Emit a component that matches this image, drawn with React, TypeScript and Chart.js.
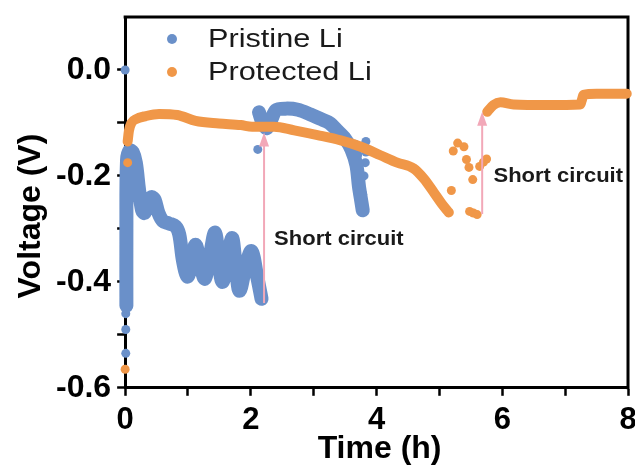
import { useEffect, useRef } from "react";
import { Chart, registerables } from "chart.js";

Chart.register(...registerables);

const BLUE = "#6a90c9";
const ORANGE = "#f09748";
const PINK = "#f2a8b8";
const FONT = "'Liberation Sans', Arial, sans-serif";

// ---- Pristine Li (blue) ----
const pristineMainTime = [0.02, 0.02, 0.03, 0.07, 0.12, 0.17, 0.22, 0.27, 0.31, 0.36, 0.42, 0.47, 0.53, 0.6, 0.7, 0.8, 0.86, 0.92, 0.99, 1.05, 1.12, 1.2, 1.27, 1.35, 1.43, 1.49, 1.545, 1.62, 1.7, 1.76, 1.82, 1.92, 2.01, 2.1, 2.17];
const pristineMainVolt = [-0.445, -0.3, -0.17, -0.152, -0.155, -0.175, -0.225, -0.265, -0.27, -0.25, -0.24, -0.245, -0.27, -0.285, -0.29, -0.295, -0.31, -0.36, -0.39, -0.37, -0.33, -0.37, -0.394, -0.35, -0.307, -0.36, -0.4, -0.37, -0.317, -0.37, -0.417, -0.37, -0.342, -0.39, -0.432];
const pristineLateTime = [2.13, 2.18, 2.25, 2.32, 2.4, 2.55, 2.75, 2.95, 3.1, 3.25, 3.38, 3.5, 3.6, 3.68, 3.72, 3.76, 3.78];
const pristineLateVolt = [-0.08, -0.098, -0.11, -0.095, -0.076, -0.073, -0.075, -0.084, -0.092, -0.1, -0.115, -0.13, -0.15, -0.18, -0.22, -0.25, -0.265];
const pristineDotTime = [0, 0.01, 0.01, 0.01, 2.11, 3.83, 3.83, 3.82, 3.8, 3.78, 3.66, 3.7, 3.64, 3.7, 3.73];
const pristineDotVolt = [0, -0.46, -0.49, -0.535, -0.15, -0.135, -0.155, -0.175, -0.2, -0.235, -0.14, -0.16, -0.165, -0.2, -0.24];

// ---- Protected Li (orange) ----
const protectedMainTime = [0.04, 0.06, 0.1, 0.17, 0.33, 0.54, 0.83, 1.12, 1.49, 1.84, 2.02, 2.37, 2.69, 3.06, 3.43, 3.75, 4.06, 4.33, 4.59, 4.75, 4.91, 5.04, 5.15];
const protectedMainVolt = [-0.135, -0.115, -0.1, -0.093, -0.087, -0.083, -0.085, -0.096, -0.101, -0.104, -0.107, -0.107, -0.114, -0.123, -0.133, -0.145, -0.161, -0.175, -0.186, -0.205, -0.231, -0.253, -0.269];
const protectedLateTime = [5.76, 5.86, 5.97, 6.18, 6.71, 7.24, 7.27, 7.29, 7.5, 7.98];
const protectedLateVolt = [-0.079, -0.066, -0.061, -0.065, -0.066, -0.065, -0.055, -0.047, -0.045, -0.045];
const protectedDotTime = [0.0, 0.04, 5.19, 5.22, 5.29, 5.39, 5.43, 5.47, 5.53, 5.48, 5.54, 5.6, 5.64, 5.7, 5.75];
const protectedDotVolt = [-0.565, -0.175, -0.2275, -0.153, -0.138, -0.145, -0.169, -0.184, -0.207, -0.267, -0.27, -0.273, -0.182, -0.174, -0.168];

// ---- Annotations ----
const arrowTime = [2.21, 5.68];
const arrowFrom = [-0.44, -0.272];
const arrowTo = [-0.118, -0.079];
const noteText = ["Short circuit", "Short circuit"];
const noteTime = [2.37, 5.86];
const noteVolt = [-0.32, -0.201];

const legendLabels = ["Pristine Li", "Protected Li"];
const legendColors = [BLUE, ORANGE];

const xTitle = "Time (h)";
const yTitle = "Voltage (V)";

const pts = (xs: number[], ys: number[]) => xs.map((x, i) => ({ x, y: ys[i] }));

const overlay = {
  id: "overlay",
  beforeDatasetsDraw(chart: any) {
    const { ctx, chartArea: a } = chart;
    ctx.save();
    ctx.strokeStyle = "#000";
    ctx.lineWidth = 3;
    ctx.beginPath();
    ctx.moveTo(a.left - 1.5, a.top);
    ctx.lineTo(a.right, a.top);
    ctx.lineTo(a.right, a.bottom + 1.5);
    ctx.stroke();
    ctx.restore();
  },
  afterDatasetsDraw(chart: any) {
    const { ctx, scales } = chart;
    const xs = scales.x;
    const ys = scales.y;
    ctx.save();
    arrowTime.forEach((t, i) => {
      const x = xs.getPixelForValue(t);
      const y0 = ys.getPixelForValue(arrowFrom[i]);
      const y1 = ys.getPixelForValue(arrowTo[i]);
      ctx.strokeStyle = PINK;
      ctx.fillStyle = PINK;
      ctx.lineWidth = 2;
      ctx.beginPath();
      ctx.moveTo(x, y0);
      ctx.lineTo(x, y1 + 12);
      ctx.stroke();
      ctx.beginPath();
      ctx.moveTo(x, y1);
      ctx.lineTo(x - 5, y1 + 14);
      ctx.lineTo(x + 5, y1 + 14);
      ctx.closePath();
      ctx.fill();
    });
    ctx.fillStyle = "#1a1a1a";
    ctx.font = `bold 20px ${FONT}`;
    ctx.textBaseline = "middle";
    ctx.textAlign = "left";
    noteText.forEach((s, i) => {
      const x = xs.getPixelForValue(noteTime[i]);
      const y = ys.getPixelForValue(noteVolt[i]);
      ctx.save();
      ctx.translate(x, y);
      ctx.scale(1.1, 1);
      ctx.fillText(s, 0, 0);
      ctx.restore();
    });
    legendLabels.forEach((s, i) => {
      const y = 39 + i * 33;
      ctx.fillStyle = legendColors[i];
      ctx.beginPath();
      ctx.arc(172, y, 5, 0, Math.PI * 2);
      ctx.fill();
      ctx.fillStyle = "#1a1a1a";
      ctx.font = `26px ${FONT}`;
      ctx.save();
      ctx.translate(208, y + 1);
      ctx.scale(1.18, 1);
      ctx.fillText(s, 0, 0);
      ctx.restore();
    });
    ctx.restore();
  },
  afterDraw(chart: any) {
    const { ctx, chartArea: a } = chart;
    ctx.save();
    ctx.fillStyle = "#000";
    ctx.font = `bold 32px ${FONT}`;
    ctx.textAlign = "center";
    ctx.textBaseline = "alphabetic";
    ctx.fillText(xTitle, (a.left + a.right) / 2 + 3, 458);
    ctx.translate(40, 216);
    ctx.rotate(-Math.PI / 2);
    ctx.fillText(yTitle, 0, 0);
    ctx.restore();
  },
};

export default function App() {
  const ref = useRef<HTMLCanvasElement | null>(null);
  useEffect(() => {
    document.body.style.margin = "0";
    const lineDs = (label: string, data: any[], color: string, width: number, tension: number, mono: boolean) => ({
      label,
      data,
      showLine: true,
      borderColor: color,
      backgroundColor: color,
      borderWidth: width,
      borderCapStyle: "round",
      borderJoinStyle: "round",
      pointRadius: 0,
      tension,
      cubicInterpolationMode: mono ? "monotone" : "default",
      clip: false,
    });
    const dotDs = (label: string, data: any[], color: string) => ({
      label,
      data,
      showLine: false,
      backgroundColor: color,
      borderColor: color,
      borderWidth: 0,
      pointRadius: 4.5,
      clip: false,
    });
    const chart = new Chart(ref.current as HTMLCanvasElement, {
      type: "scatter",
      data: {
        datasets: [
          lineDs("Protected Li", pts(protectedMainTime, protectedMainVolt), ORANGE, 10, 0.3, true),
          lineDs("Protected Li late", pts(protectedLateTime, protectedLateVolt), ORANGE, 10, 0.15, true),
          dotDs("Protected Li dots", pts(protectedDotTime, protectedDotVolt), ORANGE),
          lineDs("Pristine Li", pts(pristineMainTime, pristineMainVolt), BLUE, 14, 0.35, false),
          lineDs("Pristine Li late", pts(pristineLateTime, pristineLateVolt), BLUE, 14, 0.3, false),
          dotDs("Pristine Li dots", pts(pristineDotTime, pristineDotVolt), BLUE),
        ] as any,
      },
      options: {
        responsive: false,
        animation: false,
        devicePixelRatio: 1,
        layout: { padding: { left: 50, right: 7, top: 17, bottom: 28 } },
        plugins: { legend: { display: false }, tooltip: { enabled: false } },
        scales: {
          x: {
            type: "linear",
            min: 0,
            max: 8,
            afterFit: (scale: any) => {
              scale.paddingRight = 0;
              scale.paddingLeft = 0;
            },
            ticks: {
              stepSize: 1,
              autoSkip: false,
              maxRotation: 0,
              padding: 6,
              color: "#000",
              font: { family: FONT, size: 31, weight: "bold" },
              callback: (v: any) => (Math.round(v) % 2 === 0 ? String(Math.round(v)) : ""),
            },
            grid: { drawOnChartArea: false, drawTicks: true, tickLength: 8, tickWidth: 2.5, tickColor: "#000" },
            border: { display: true, color: "#000", width: 3 },
          },
          y: {
            type: "linear",
            min: -0.6,
            max: 0.1,
            afterBuildTicks: (scale: any) => {
              scale.ticks = scale.ticks.filter((t: any) => t.value < 0.05);
            },
            afterFit: (scale: any) => {
              scale.paddingTop = 0;
              scale.paddingBottom = 0;
            },
            ticks: {
              stepSize: 0.1,
              autoSkip: false,
              padding: 6,
              color: "#000",
              font: { family: FONT, size: 32, weight: "bold" },
              callback: (v: any) => {
                const n = Math.round(v * 10);
                return n % 2 === 0 ? (n / 10).toFixed(1).replace("-0.0", "0.0") : "";
              },
            },
            grid: { drawOnChartArea: false, drawTicks: true, tickLength: 8, tickWidth: 2.5, tickColor: "#000" },
            border: { display: true, color: "#000", width: 3 },
          },
        },
      },
      plugins: [overlay],
    });
    return () => chart.destroy();
  }, []);
  return (
    <div style={{ width: 635, height: 473, background: "#fff" }}>
      <canvas ref={ref} width={635} height={473} />
    </div>
  );
}
